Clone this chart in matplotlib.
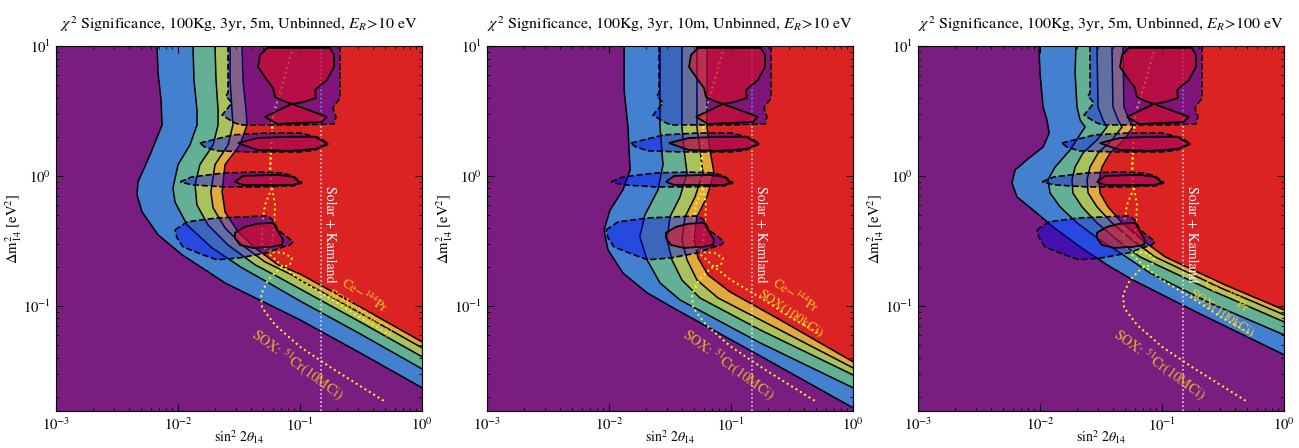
import matplotlib
matplotlib.use('Agg')
import matplotlib.pyplot as plt

plt.rcParams['font.family'] = 'STIXGeneral'
plt.rcParams['mathtext.fontset'] = 'stix'

# exclusion curves: sin^2 2theta vs dm^2, region right of each curve is excluded
# panel 1: 5m, E_R>10 eV
p1_blue_s = [0.00673, 0.00686, 0.00726, 0.0074, 0.00589, 0.0047, 0.00461, 0.00507, 0.00686, 0.0108, 0.0176, 0.0243, 0.1, 0.31, 1.0]
p1_blue_dm = [10, 6.19, 3.84, 2.47, 1.45, 0.9, 0.714, 0.529, 0.352, 0.247, 0.183, 0.150, 0.078, 0.0435, 0.0234]
p1_green_s = [0.01327, 0.01352, 0.01432, 0.01432, 0.01253, 0.01, 0.0091, 0.00944, 0.01186, 0.019, 0.0335, 0.0516, 0.1, 0.31, 1.0]
p1_green_dm = [10, 5.47, 3.22, 2.47, 1.73, 1.22, 0.809, 0.631, 0.42, 0.279, 0.196, 0.156, 0.109, 0.061, 0.0327]
p1_lime_s = [0.0201, 0.0205, 0.0213, 0.0213, 0.0194, 0.0151, 0.0138, 0.0143, 0.0176, 0.0257, 0.0428, 0.066, 0.1, 0.31, 1.0]
p1_lime_dm = [10, 5.47, 3.22, 2.47, 1.73, 1.22, 0.853, 0.598, 0.42, 0.294, 0.207, 0.167, 0.135, 0.0753, 0.0406]
p1_orange_s = [0.0267, 0.0267, 0.0277, 0.0282, 0.0257, 0.0201, 0.0186, 0.0194, 0.0243, 0.0335, 0.0516, 0.0859, 0.1, 0.31, 1.0]
p1_orange_dm = [10, 5.47, 3.22, 2.47, 1.73, 1.22, 0.753, 0.567, 0.398, 0.294, 0.218, 0.173, 0.158, 0.0883, 0.0475]
p1_red_s = [0.0335, 0.0341, 0.0361, 0.0368, 0.0322, 0.0243, 0.023, 0.0243, 0.031, 0.0428, 0.066, 0.1, 0.31, 1.0]
p1_red_dm = [10, 5.47, 3.22, 2.47, 1.73, 1.22, 0.753, 0.529, 0.371, 0.279, 0.207, 0.176, 0.0982, 0.0528]

# panel 2: 10m, E_R>10 eV
p2_blue_s = [0.0133, 0.0133, 0.0143, 0.0146, 0.0149, 0.013, 0.0102, 0.0091, 0.0098, 0.013, 0.0205, 0.0335, 0.173, 1.0]
p2_blue_dm = [10, 4.59, 2.38, 1.58, 1.11, 0.78, 0.547, 0.384, 0.27, 0.179, 0.126, 0.0966, 0.0412, 0.0164]
p2_green_s = [0.0262, 0.0262, 0.0262, 0.0277, 0.0252, 0.0197, 0.0179, 0.0205, 0.0262, 0.0382, 0.173, 1.0]
p2_green_dm = [10, 4.59, 2.38, 1.22, 0.78, 0.501, 0.34, 0.226, 0.15, 0.111, 0.0519, 0.0234]
p2_lime_s = [0.0396, 0.0396, 0.0412, 0.0436, 0.0382, 0.0316, 0.0299, 0.0328, 0.0396, 0.0557, 0.173, 1.0]
p2_lime_dm = [10, 2.38, 1.58, 1.055, 0.689, 0.484, 0.322, 0.226, 0.158, 0.115, 0.0653, 0.0294]
p2_orange_s = [0.0526, 0.0526, 0.0557, 0.0589, 0.0507, 0.042, 0.0396, 0.0436, 0.0526, 0.0782, 0.209, 1.0]
p2_orange_dm = [10, 2.38, 1.58, 1.055, 0.689, 0.484, 0.322, 0.226, 0.158, 0.115, 0.0714, 0.0333]
p2_red_s = [0.0635, 0.0635, 0.0673, 0.0726, 0.0635, 0.0526, 0.0498, 0.0537, 0.0647, 0.0982, 0.252, 1.0]
p2_red_dm = [10, 2.38, 1.58, 1.055, 0.689, 0.484, 0.322, 0.234, 0.173, 0.128, 0.078, 0.0371]

# panel 3: 5m, E_R>100 eV
p3_blue_s = [0.0098, 0.01, 0.0106, 0.0114, 0.0119, 0.0106, 0.0078, 0.00624, 0.00589, 0.00647, 0.00877, 0.0128, 0.0213, 0.0375, 0.0578, 0.205, 1.0]
p3_blue_dm = [10, 6.19, 3.4, 2.7, 2.14, 1.67, 1.33, 1.11, 0.884, 0.689, 0.547, 0.405, 0.284, 0.2, 0.158, 0.0867, 0.042]
p3_green_s = [0.0197, 0.0194, 0.0201, 0.0213, 0.0234, 0.0176, 0.0133, 0.0116, 0.0121, 0.0146, 0.0201, 0.031, 0.0453, 0.0798, 0.247, 1.0]
p3_green_dm = [10, 6.19, 3.4, 2.7, 2.38, 1.58, 1.17, 0.932, 0.739, 0.578, 0.435, 0.322, 0.256, 0.179, 0.105, 0.0598]
p3_lime_s = [0.0293, 0.0299, 0.0328, 0.0354, 0.0293, 0.0225, 0.0194, 0.0183, 0.0186, 0.0221, 0.0293, 0.0428, 0.066, 0.247, 1.0]
p3_lime_dm = [10, 3.4, 2.7, 2.38, 1.89, 1.5, 1.17, 0.932, 0.739, 0.578, 0.435, 0.322, 0.238, 0.133, 0.0753]
p3_orange_s = [0.0389, 0.0396, 0.0436, 0.047, 0.0389, 0.0299, 0.0257, 0.0243, 0.0248, 0.0293, 0.0389, 0.0568, 0.0877, 0.299, 1.0]
p3_orange_dm = [10, 3.4, 2.7, 2.38, 1.89, 1.5, 1.17, 0.932, 0.739, 0.578, 0.435, 0.322, 0.238, 0.138, 0.0853]
p3_red_s = [0.0479, 0.0487, 0.0537, 0.0578, 0.0487, 0.0375, 0.0322, 0.0305, 0.031, 0.0361, 0.047, 0.0686, 0.106, 0.328, 1.0]
p3_red_dm = [10, 3.4, 2.7, 2.38, 1.89, 1.5, 1.17, 0.932, 0.739, 0.578, 0.435, 0.322, 0.238, 0.145, 0.0931]

# global-fit allowed regions (same in all panels): dashed = outer, solid = inner
regA_s = [0.0257, 0.0257, 0.0247, 0.0277, 0.023, 0.0282, 0.0322, 0.1, 0.19, 0.197, 0.186, 0.213, 0.213]
regA_dm = [10, 4.35, 4.12, 3.65, 2.94, 2.6, 2.47, 2.47, 2.51, 2.85, 3.34, 3.98, 10]
regB_s = [0.0151, 0.0209, 0.0282, 0.0537, 0.1, 0.146, 0.17, 0.133, 0.1, 0.0389, 0.0209, 0.0166]
regB_dm = [1.79, 1.93, 2.07, 2.14, 2.14, 1.96, 1.76, 1.58, 1.53, 1.53, 1.56, 1.67]
regC_s = [0.0104, 0.013, 0.0243, 0.0453, 0.0711, 0.0877, 0.104, 0.0877, 0.0453, 0.0243, 0.013]
regC_dm = [0.9, 0.982, 1.055, 1.07, 1.055, 1.0, 0.884, 0.838, 0.823, 0.823, 0.853]
regD_s = [0.00944, 0.0119, 0.0209, 0.0537, 0.0601, 0.066, 0.0782, 0.0877, 0.0828, 0.0726, 0.0537, 0.0322, 0.0209, 0.016, 0.011, 0.00982]
regD_dm = [0.384, 0.443, 0.475, 0.492, 0.459, 0.384, 0.34, 0.311, 0.294, 0.284, 0.256, 0.234, 0.226, 0.247, 0.284, 0.333]

coreA_s = [0.047, 0.0537, 0.176, 0.19, 0.19, 0.166, 0.133, 0.135, 0.106, 0.0859, 0.166, 0.151, 0.0647, 0.0516, 0.0859, 0.0726, 0.0624, 0.0601, 0.0537, 0.0453]
coreA_dm = [8.53, 9.66, 9.66, 8.53, 6.89, 5.47, 4.59, 3.98, 3.7, 3.58, 2.85, 2.6, 2.51, 2.85, 3.58, 3.78, 4.06, 4.75, 5.47, 6.89]
coreB_s = [0.031, 0.0453, 0.0828, 0.133, 0.17, 0.133, 0.0828, 0.0453]
coreB_dm = [1.79, 1.96, 2.0, 2.0, 1.76, 1.61, 1.56, 1.58]
coreC_s = [0.0293, 0.0341, 0.0647, 0.0877, 0.1, 0.0877, 0.0341]
coreC_dm = [0.9, 1.0, 1.02, 0.982, 0.884, 0.853, 0.853]
coreD_s = [0.0293, 0.0354, 0.0445, 0.0601, 0.0686, 0.0726, 0.0711, 0.0568, 0.0412, 0.0322, 0.0293]
coreD_dm = [0.365, 0.405, 0.428, 0.435, 0.352, 0.322, 0.294, 0.284, 0.279, 0.294, 0.333]

# SOX sensitivity curves
cr_s = [0.0877, 0.0726, 0.0601, 0.0578, 0.0568, 0.0589, 0.0516, 0.0489, 0.0489, 0.0547, 0.0726, 0.0859, 0.0828, 0.0686, 0.0547, 0.0479, 0.0489, 0.0624, 0.1, 0.186, 0.498]
cr_dm = [9.82, 5.19, 2.94, 1.58, 1.02, 0.809, 0.598, 0.42, 0.294, 0.26, 0.256, 0.234, 0.207, 0.196, 0.158, 0.122, 0.0966, 0.0714, 0.0484, 0.0327, 0.0183]
ce_s = [0.0877, 0.0726, 0.0601, 0.0578, 0.0568, 0.0589, 0.0624, 0.0612, 0.0589, 0.0568, 0.0711, 0.1, 0.176, 0.31, 0.547]
ce_dm = [9.82, 5.19, 2.94, 1.58, 1.02, 0.809, 0.598, 0.42, 0.294, 0.247, 0.203, 0.158, 0.115, 0.081, 0.0598]
solar_s = 0.148

titles = [r'$\chi^2$ Significance, 100Kg, 3yr, 5m, Unbinned, $E_R$>10 eV',
          r'$\chi^2$ Significance, 100Kg, 3yr, 10m, Unbinned, $E_R$>10 eV',
          r'$\chi^2$ Significance, 100Kg, 3yr, 5m, Unbinned, $E_R$>100 eV']

panels = [
    [(p1_blue_s, p1_blue_dm), (p1_green_s, p1_green_dm), (p1_lime_s, p1_lime_dm), (p1_orange_s, p1_orange_dm), (p1_red_s, p1_red_dm)],
    [(p2_blue_s, p2_blue_dm), (p2_green_s, p2_green_dm), (p2_lime_s, p2_lime_dm), (p2_orange_s, p2_orange_dm), (p2_red_s, p2_red_dm)],
    [(p3_blue_s, p3_blue_dm), (p3_green_s, p3_green_dm), (p3_lime_s, p3_lime_dm), (p3_orange_s, p3_orange_dm), (p3_red_s, p3_red_dm)],
]
outer = [(regA_s, regA_dm), (regB_s, regB_dm), (regC_s, regC_dm), (regD_s, regD_dm)]
inner = [(coreA_s, coreA_dm), (coreB_s, coreB_dm), (coreC_s, coreC_dm), (coreD_s, coreD_dm)]

band_colors = ['#4380d0', '#64b094', '#a9c25e', '#e2a93e', '#dc2323']
bg = '#7a1d80'
label_col = '#f5c82a'

fig = plt.figure(figsize=(12.99, 4.48), dpi=100)
lefts = [56, 487, 918]

for left, curves, title in zip(lefts, panels, titles):
    ax = fig.add_axes([left / 1299, 37 / 448, 366 / 1299, 365 / 448])
    ax.set_xscale('log')
    ax.set_yscale('log')
    ax.set_facecolor(bg)

    for (s, dm), c in zip(curves, band_colors):
        ax.fill_betweenx(dm, s, 1.0, color=c, lw=0, zorder=1)
    for s, dm in curves:
        ax.plot(s, dm, color='k', lw=1.1, zorder=1.5)

    ax.plot(cr_s, cr_dm, ls=':', color='#ffff20', lw=1.4, zorder=1.6)
    ax.plot(ce_s, ce_dm, ls=':', color='#ffff20', lw=1.4, zorder=1.6)
    ax.axvline(solar_s, color='#f4e4f4', ls=':', lw=1.1, zorder=1.6)

    for s, dm in outer:
        ax.fill(s, dm, facecolor=(0, 0, 0.96, 0.42), edgecolor='k', ls='--', lw=1.2, zorder=2)
    for s, dm in inner:
        ax.fill(s, dm, facecolor=(0.9, 0.04, 0.1, 0.55), edgecolor='k', lw=1.3, zorder=2.2)

    ax.text(0.155, 0.84, 'Solar + Kamland', rotation=-90, color='white', fontsize=10, ha='left', va='top', zorder=3)
    ax.text(0.34, 0.12, r'Ce$-^{144}$Pr', rotation=-33, color=label_col, fontsize=9.5, ha='center', va='center', zorder=3)
    ax.text(0.31, 0.087, 'SOX(100kCi)', rotation=-34, color=label_col, fontsize=9.5, ha='center', va='center', zorder=3)
    ax.text(0.0964, 0.0352, r'SOX: $^{51}$Cr(10MCi)', rotation=-36, color='#e8b42c', fontsize=10, ha='center', va='center', zorder=3)

    ax.set_xlim(1e-3, 1)
    ax.set_ylim(0.0155, 10)
    ax.tick_params(which='both', direction='in', top=True, right=True, labelsize=10.5)
    ax.tick_params(which='major', length=5, pad=4)
    ax.tick_params(which='minor', length=2.5)
    ax.set_xlabel(r'sin$^2$ 2$\theta_{14}$', fontsize=10)
    ax.set_ylabel(r'$\Delta\mathrm{m}^2_{14}$ [eV$^2$]', fontsize=10.5)
    ax.xaxis.set_label_coords(0.5, -0.048)
    ax.yaxis.set_label_coords(-0.088, 0.5)
    ax.set_title(title, fontsize=11.5, pad=12)

fig.savefig('out.png', dpi=100)
